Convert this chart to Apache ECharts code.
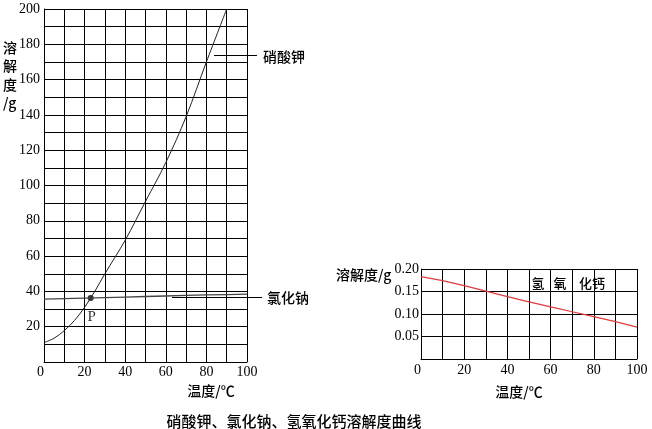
<!DOCTYPE html>
<html><head><meta charset="utf-8">
<script src="https://cdn.jsdelivr.net/npm/echarts@6/dist/echarts.min.js"></script>
<style>html,body{margin:0;padding:0;background:#fff}#c{width:652px;height:429px}</style>
</head><body><div id="c"></div>
<script>
// ---- data ----
const kno3Temps  = [0, 5, 10, 15, 20, 25, 30, 40, 50, 60, 70, 80, 90];
const kno3Values = [11, 13.5, 17.8, 23.5, 31, 40, 50, 69, 91, 113, 139, 170, 200];
const naclTemps  = [0, 10, 20, 30, 40, 50, 60, 70, 80, 90, 100];
const naclValues = [35.6, 35.9, 36.2, 36.5, 36.8, 37.1, 37.4, 37.7, 38.0, 38.2, 38.4];
const caTemps    = [0, 10, 20, 30, 40, 50, 60, 70, 80, 90, 100];
const caValues   = [0.183, 0.174, 0.163, 0.151, 0.1385, 0.127, 0.116, 0.105, 0.094, 0.083, 0.071];
const pointP     = [23, 36.3];
const xTickLabels      = [0, 20, 40, 60, 80, 100];
const leftYTickLabels  = [20, 40, 60, 80, 100, 120, 140, 160, 180, 200];
const rightYTickLabels = ['0.05', '0.10', '0.15', '0.20'];
const seriesNames = ['硝酸钾', '氯化钠', '氢氧化钙'];

const zip = (xs, ys) => xs.map((x, i) => [x, ys[i]]);
const numFont = 'Liberation Serif';
const cjkFont = 'Noto Sans CJK SC';
const black = '#000';
const cjk = (size) => '500 ' + size + 'px "' + cjkFont + '"';

const chart = echarts.init(document.getElementById('c'), null, {renderer: 'canvas'});
const axisCommon = {
  axisLine: {show: true, lineStyle: {color: black, width: 1}},
  axisTick: {show: false},
  splitLine: {show: true, lineStyle: {color: black, width: 1}},
};
chart.setOption({
  animation: false,
  backgroundColor: '#fff',
  grid: [
    {left: 44, top: 9, width: 203, height: 353},
    {left: 421, top: 269, width: 216, height: 90}
  ],
  xAxis: [
    Object.assign({}, axisCommon, {
      gridIndex: 0, type: 'value', min: 0, max: 100, interval: 10,
      axisLabel: {margin: 3, fontFamily: numFont, fontSize: 14, color: black,
        alignMinLabel: 'right',
        formatter: v => xTickLabels.includes(v) ? String(v) : ''}
    }),
    Object.assign({}, axisCommon, {
      gridIndex: 1, type: 'value', min: 0, max: 100, interval: 10,
      axisLabel: {margin: 4, fontFamily: numFont, fontSize: 14, color: black,
        alignMinLabel: 'right',
        formatter: v => xTickLabels.includes(v) ? String(v) : ''}
    })
  ],
  yAxis: [
    Object.assign({}, axisCommon, {
      gridIndex: 0, type: 'value', min: 0, max: 200, interval: 10,
      axisLabel: {margin: 4, fontFamily: numFont, fontSize: 14, color: black,
        formatter: v => leftYTickLabels.includes(v) ? String(v) : ''}
    }),
    Object.assign({}, axisCommon, {
      gridIndex: 1, type: 'value', min: 0, max: 0.2, interval: 0.05,
      axisLabel: {margin: 2, fontFamily: numFont, fontSize: 14, color: black,
        formatter: v => { const s = v.toFixed(2); return rightYTickLabels.includes(s) ? s : ''; }}
    })
  ],
  series: [
    {name: seriesNames[0], type: 'line', xAxisIndex: 0, yAxisIndex: 0, smooth: 0.35,
      symbol: 'none', data: zip(kno3Temps, kno3Values),
      lineStyle: {color: '#222', width: 1}},
    {name: seriesNames[1], type: 'line', xAxisIndex: 0, yAxisIndex: 0,
      symbol: 'none', data: zip(naclTemps, naclValues),
      lineStyle: {color: '#444', width: 1.3}},
    {name: 'P', type: 'scatter', xAxisIndex: 0, yAxisIndex: 0, data: [pointP],
      symbolSize: 6, itemStyle: {color: black},
      label: {show: true, formatter: 'P', position: 'bottom', distance: 9, offset: [1, 0],
        fontFamily: numFont, fontSize: 15, color: black}},
    {name: seriesNames[2], type: 'line', xAxisIndex: 1, yAxisIndex: 1,
      symbol: 'none', data: zip(caTemps, caValues),
      lineStyle: {color: '#e03a3a', width: 1.2}}
  ],
  graphic: [
    // left y axis name, stacked vertically
    {type: 'text', left: 3, top: 38, style: {text: '溶\n解\n度\n/g', font: cjk(14), lineHeight: 18.5, fill: black}},
    // right y axis name
    {type: 'text', x: 336, y: 275, style: {text: '溶解度/g', font: cjk(14), textVerticalAlign: 'middle', fill: black}},
    // x axis names
    {type: 'text', x: 211, y: 391, style: {text: '温度/℃', font: cjk(14), textAlign: 'center', textVerticalAlign: 'middle', fill: black}},
    {type: 'text', x: 519, y: 392, style: {text: '温度/℃', font: cjk(14), textAlign: 'center', textVerticalAlign: 'middle', fill: black}},
    // leader lines + labels
    {type: 'line', shape: {x1: 214, y1: 55.5, x2: 257, y2: 55.5}, style: {stroke: black, lineWidth: 1}},
    {type: 'text', x: 263, y: 57, style: {text: seriesNames[0], font: cjk(14), textVerticalAlign: 'middle', fill: black}},
    {type: 'line', shape: {x1: 172, y1: 297.5, x2: 262, y2: 297.5}, style: {stroke: black, lineWidth: 1}},
    {type: 'text', x: 267, y: 298, style: {text: seriesNames[1], font: cjk(14), textVerticalAlign: 'middle', fill: black}},
    // Ca(OH)2 label inside right grid
    {type: 'text', x: 538, y: 283, style: {text: '氢', font: cjk(13), textAlign: 'center', textVerticalAlign: 'middle', fill: black}},
    {type: 'text', x: 560, y: 283, style: {text: '氧', font: cjk(13), textAlign: 'center', textVerticalAlign: 'middle', fill: black}},
    {type: 'text', x: 592, y: 283, style: {text: '化钙', font: cjk(13), textAlign: 'center', textVerticalAlign: 'middle', fill: black}},
    // caption
    {type: 'text', x: 294, y: 421, style: {text: '硝酸钾、氯化钠、氢氧化钙溶解度曲线', font: cjk(15), textAlign: 'center', textVerticalAlign: 'middle', fill: black}}
  ]
});
</script></body></html>
